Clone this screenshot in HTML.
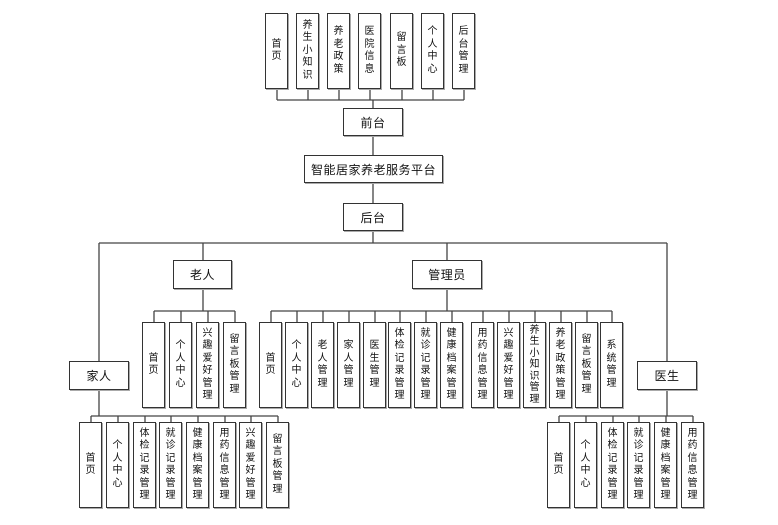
<!DOCTYPE html>
<html><head><meta charset="utf-8">
<style>
html,body{margin:0;padding:0;background:#fff;}
body{width:778px;height:525px;position:relative;overflow:hidden;font-family:"Liberation Sans","Noto Sans CJK SC",sans-serif;color:#111;}
.b{position:absolute;box-sizing:border-box;border:1.5px solid #333;background:#fff;box-shadow:1px 1px 0 #aaa;display:flex;align-items:center;justify-content:center;}
.v{width:23px;font-size:10px;line-height:12.5px;text-align:center;}
.h{font-size:12px;letter-spacing:0.5px;white-space:nowrap;}
svg{position:absolute;left:0;top:0;}
</style></head><body>
<svg width="778" height="525" stroke="#444" stroke-width="1.3" fill="none">
<path d="M277 89V100M308 89V100M339 89V100M370 89V100M402 89V100M433 89V100M464 89V100M277 100H464M373 100V108M373 136V155M373 183V203M373 231V243"/>
<path d="M99 243H667M99 243V361M203 243V260M447 243V260M667 243V361"/>
<path d="M203 289V311M154 311H235M154 311V322M181 311V322M208 311V322M235 311V322"/>
<path d="M447 289V311M271 311H612M271 311V322M297 311V322M323 311V322M349 311V322M375 311V322M400 311V322M426 311V322M452 311V322M483 311V322M509 311V322M535 311V322M561 311V322M587 311V322M612 311V322"/>
<path d="M99 390V416M91 416H278M91 416V422M118 416V422M145 416V422M171 416V422M198 416V422M225 416V422M251 416V422M278 416V422" />
<path d="M667 390V416M559 416H693M559 416V422M586 416V422M613 416V422M639 416V422M666 416V422M693 416V422"/>
</svg>

<div class="b v" style="left:265px;top:13px;height:76px">首<br>页</div>
<div class="b v" style="left:296px;top:13px;height:76px">养<br>生<br>小<br>知<br>识</div>
<div class="b v" style="left:327px;top:13px;height:76px">养<br>老<br>政<br>策</div>
<div class="b v" style="left:358px;top:13px;height:76px">医<br>院<br>信<br>息</div>
<div class="b v" style="left:390px;top:13px;height:76px">留<br>言<br>板</div>
<div class="b v" style="left:421px;top:13px;height:76px">个<br>人<br>中<br>心</div>
<div class="b v" style="left:452px;top:13px;height:76px">后<br>台<br>管<br>理</div>

<div class="b h" style="left:343px;top:108px;width:60px;height:28px">前台</div>
<div class="b h" style="left:304px;top:155px;width:139px;height:28px">智能居家养老服务平台</div>
<div class="b h" style="left:343px;top:203px;width:60px;height:28px">后台</div>

<div class="b h" style="left:173px;top:260px;width:59px;height:29px">老人</div>
<div class="b h" style="left:412px;top:260px;width:70px;height:29px">管理员</div>
<div class="b h" style="left:69px;top:361px;width:60px;height:29px">家人</div>
<div class="b h" style="left:637px;top:361px;width:60px;height:29px">医生</div>

<div class="b v" style="left:142px;top:322px;height:86px">首<br>页</div>
<div class="b v" style="left:169px;top:322px;height:86px">个<br>人<br>中<br>心</div>
<div class="b v" style="left:196px;top:322px;height:86px">兴<br>趣<br>爱<br>好<br>管<br>理</div>
<div class="b v" style="left:223px;top:322px;height:86px">留<br>言<br>板<br>管<br>理</div>

<div class="b v" style="left:259px;top:322px;height:86px">首<br>页</div>
<div class="b v" style="left:285px;top:322px;height:86px">个<br>人<br>中<br>心</div>
<div class="b v" style="left:311px;top:322px;height:86px">老<br>人<br>管<br>理</div>
<div class="b v" style="left:337px;top:322px;height:86px">家<br>人<br>管<br>理</div>
<div class="b v" style="left:363px;top:322px;height:86px">医<br>生<br>管<br>理</div>
<div class="b v" style="left:388px;top:322px;height:86px">体<br>检<br>记<br>录<br>管<br>理</div>
<div class="b v" style="left:414px;top:322px;height:86px">就<br>诊<br>记<br>录<br>管<br>理</div>
<div class="b v" style="left:440px;top:322px;height:86px">健<br>康<br>档<br>案<br>管<br>理</div>
<div class="b v" style="left:471px;top:322px;height:86px">用<br>药<br>信<br>息<br>管<br>理</div>
<div class="b v" style="left:497px;top:322px;height:86px">兴<br>趣<br>爱<br>好<br>管<br>理</div>
<div class="b v" style="left:523px;top:322px;height:86px;line-height:11.5px">养<br>生<br>小<br>知<br>识<br>管<br>理</div>
<div class="b v" style="left:549px;top:322px;height:86px">养<br>老<br>政<br>策<br>管<br>理</div>
<div class="b v" style="left:575px;top:322px;height:86px">留<br>言<br>板<br>管<br>理</div>
<div class="b v" style="left:600px;top:322px;height:86px">系<br>统<br>管<br>理</div>

<div class="b v" style="left:79px;top:422px;height:86px">首<br>页</div>
<div class="b v" style="left:106px;top:422px;height:86px">个<br>人<br>中<br>心</div>
<div class="b v" style="left:133px;top:422px;height:86px">体<br>检<br>记<br>录<br>管<br>理</div>
<div class="b v" style="left:159px;top:422px;height:86px">就<br>诊<br>记<br>录<br>管<br>理</div>
<div class="b v" style="left:186px;top:422px;height:86px">健<br>康<br>档<br>案<br>管<br>理</div>
<div class="b v" style="left:213px;top:422px;height:86px">用<br>药<br>信<br>息<br>管<br>理</div>
<div class="b v" style="left:239px;top:422px;height:86px">兴<br>趣<br>爱<br>好<br>管<br>理</div>
<div class="b v" style="left:266px;top:422px;height:86px">留<br>言<br>板<br>管<br>理</div>

<div class="b v" style="left:547px;top:422px;height:86px">首<br>页</div>
<div class="b v" style="left:574px;top:422px;height:86px">个<br>人<br>中<br>心</div>
<div class="b v" style="left:601px;top:422px;height:86px">体<br>检<br>记<br>录<br>管<br>理</div>
<div class="b v" style="left:627px;top:422px;height:86px">就<br>诊<br>记<br>录<br>管<br>理</div>
<div class="b v" style="left:654px;top:422px;height:86px">健<br>康<br>档<br>案<br>管<br>理</div>
<div class="b v" style="left:681px;top:422px;height:86px">用<br>药<br>信<br>息<br>管<br>理</div>
</body></html>
